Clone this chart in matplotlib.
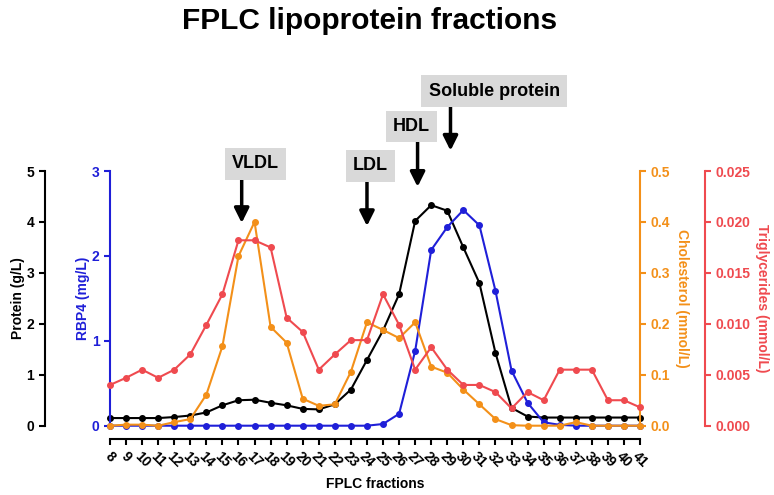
import matplotlib
matplotlib.use("Agg")
import matplotlib.pyplot as plt

plt.rcParams['font.family'] = ['Liberation Sans', 'DejaVu Sans']
plt.rcParams['font.weight'] = 'bold'

fractions = list(range(8, 42))

protein = [0.15, 0.15, 0.15, 0.15, 0.17, 0.20, 0.26, 0.40, 0.50, 0.51,
           0.45, 0.40, 0.33, 0.32, 0.42, 0.71, 1.29, 1.87, 2.58, 4.02,
           4.33, 4.22, 3.50, 2.80, 1.43, 0.35, 0.18, 0.16, 0.16, 0.16,
           0.16, 0.16, 0.16, 0.16]
rbp4 = [0, 0, 0, 0, 0, 0, 0, 0, 0, 0,
        0, 0, 0, 0, 0, 0, 0, 0.02, 0.14, 0.88,
        2.07, 2.34, 2.54, 2.36, 1.59, 0.65, 0.27, 0.04, 0.01, 0,
        0, 0, 0, 0]
cholesterol = [0.0, 0.002, 0.002, 0.0, 0.007, 0.013, 0.061, 0.156, 0.333, 0.40,
               0.194, 0.163, 0.053, 0.039, 0.042, 0.106, 0.203, 0.188, 0.172, 0.203,
               0.116, 0.104, 0.071, 0.042, 0.013, 0.001, 0.0, 0.0, 0.0, 0.007,
               0.0, 0.0, 0.0, 0.0]
triglycerides = [0.0040, 0.0047, 0.0055, 0.0047, 0.0055, 0.0070, 0.0099, 0.0129, 0.0182, 0.0182,
                 0.0175, 0.0106, 0.0092, 0.0055, 0.0070, 0.0084, 0.0084, 0.0129, 0.0099, 0.0055,
                 0.0077, 0.0055, 0.0040, 0.0040, 0.0033, 0.0017, 0.0033, 0.0025, 0.0055, 0.0055,
                 0.0055, 0.0025, 0.0025, 0.0018]

# label, text position (fraction, protein), arrow x, arrow start y, arrow tip y
peaks = [
    ("VLDL", 17.05, 5.14, 16.2, 4.85, 3.98),
    ("LDL", 24.22, 5.10, 24.0, 4.81, 3.92),
    ("HDL", 26.78, 5.87, 27.15, 5.57, 4.69),
    ("Soluble protein", 31.92, 6.57, 29.2, 6.26, 5.40),
]

c_prot = 'black'
c_rbp = '#1f1fd8'
c_chol = '#f39019'
c_tri = '#ef4a4f'

fig = plt.figure(figsize=(7.74, 4.95), dpi=100)
ax = fig.add_axes([0.1421, 0.14, 0.6848, 0.5145])
ax_rbp = ax.twinx()
ax_chol = ax.twinx()
ax_tri = ax.twinx()

tick_kw = dict(length=4, width=1.5, labelsize=10, direction='out')
label_kw = dict(fontsize=10, fontweight='bold', va='center')

# protein (host axis, offset to the left)
ax.plot(fractions, protein, color=c_prot, marker='o', ms=4, lw=1.5, clip_on=False, zorder=3)
ax.set_xlim(8, 41)
ax.set_ylim(0, 5)
ax.set_yticks(range(6))
ax.spines['top'].set_visible(False)
ax.spines['right'].set_visible(False)
ax.spines['left'].set_position(('outward', 47))
ax.spines['bottom'].set_position(('outward', 9.5))
for s in ('left', 'bottom'):
    ax.spines[s].set_linewidth(1.5)
ax.tick_params(axis='both', **tick_kw)
ax.set_xticks(fractions)
ax.set_xticklabels([str(f) for f in fractions], rotation=-45, ha='center', va='top')
ax.set_ylabel("Protein (g/L)", **label_kw)
ax.yaxis.set_label_coords(-0.1736, 0.5)
ax.set_xlabel("FPLC fractions", fontsize=10, fontweight='bold', labelpad=5)

# RBP4 on the inner left spine
ax_rbp.plot(fractions, rbp4, color=c_rbp, marker='o', ms=4, lw=1.5, clip_on=False)
ax_rbp.set_ylim(0, 3)
ax_rbp.set_yticks(range(4))
ax_rbp.yaxis.set_ticks_position('left')
ax_rbp.yaxis.set_label_position('left')
for s in ('top', 'right', 'bottom'):
    ax_rbp.spines[s].set_visible(False)
ax_rbp.spines['left'].set_visible(True)
ax_rbp.spines['left'].set_color(c_rbp)
ax_rbp.spines['left'].set_linewidth(1.5)
ax_rbp.tick_params(axis='y', colors=c_rbp, **tick_kw)
ax_rbp.set_ylabel("RBP4 (mg/L)", color=c_rbp, **label_kw)
ax_rbp.yaxis.set_label_coords(-0.0509, 0.5)

# cholesterol on the inner right spine
ax_chol.plot(fractions, cholesterol, color=c_chol, marker='o', ms=4, lw=1.5, clip_on=False)
ax_chol.set_ylim(0, 0.5)
ax_chol.set_yticks([0, 0.1, 0.2, 0.3, 0.4, 0.5])
ax_chol.set_yticklabels(["0.0", "0.1", "0.2", "0.3", "0.4", "0.5"])
for s in ('top', 'left', 'bottom'):
    ax_chol.spines[s].set_visible(False)
ax_chol.spines['right'].set_color(c_chol)
ax_chol.spines['right'].set_linewidth(1.5)
ax_chol.tick_params(axis='y', colors=c_chol, **tick_kw)
ax_chol.set_ylabel("Cholesterol (mmol/L)", color=c_chol, rotation=270, **label_kw)
ax_chol.yaxis.set_label_coords(1.0792, 0.5)

# triglycerides on the outer right spine
ax_tri.plot(fractions, triglycerides, color=c_tri, marker='o', ms=4, lw=1.5, clip_on=False)
ax_tri.set_ylim(0, 0.025)
ax_tri.set_yticks([0, 0.005, 0.010, 0.015, 0.020, 0.025])
ax_tri.set_yticklabels(["0.000", "0.005", "0.010", "0.015", "0.020", "0.025"])
for s in ('top', 'left', 'bottom'):
    ax_tri.spines[s].set_visible(False)
ax_tri.spines['right'].set_position(('outward', 46.5))
ax_tri.spines['right'].set_color(c_tri)
ax_tri.spines['right'].set_linewidth(1.5)
ax_tri.tick_params(axis='y', colors=c_tri, **tick_kw)
ax_tri.set_ylabel("Triglycerides (mmol/L)", color=c_tri, rotation=270, **label_kw)
ax_tri.yaxis.set_label_coords(1.2302, 0.5)

# peak annotations, drawn on the top twin so they sit above the lines
top = ax_tri
for label, tx, ty, axx, y0, y1 in peaks:
    top.annotate('', xy=(axx, y1), xytext=(axx, y0),
                 xycoords=ax.transData, textcoords=ax.transData,
                 arrowprops=dict(arrowstyle='-|>', lw=2.5, color='black', mutation_scale=22,
                                 shrinkA=0, shrinkB=0),
                 annotation_clip=False)
    top.text(tx, ty, label, transform=ax.transData, ha='center', va='center',
             fontsize=13, fontweight='bold', clip_on=False,
             bbox=dict(boxstyle='square,pad=0.4', facecolor='#d9d9d9', edgecolor='none'))

fig.text(0.478, 0.958, "FPLC lipoprotein fractions", ha='center', va='center',
         fontsize=21.5, fontweight='bold')

fig.savefig("out.png", dpi=100)
